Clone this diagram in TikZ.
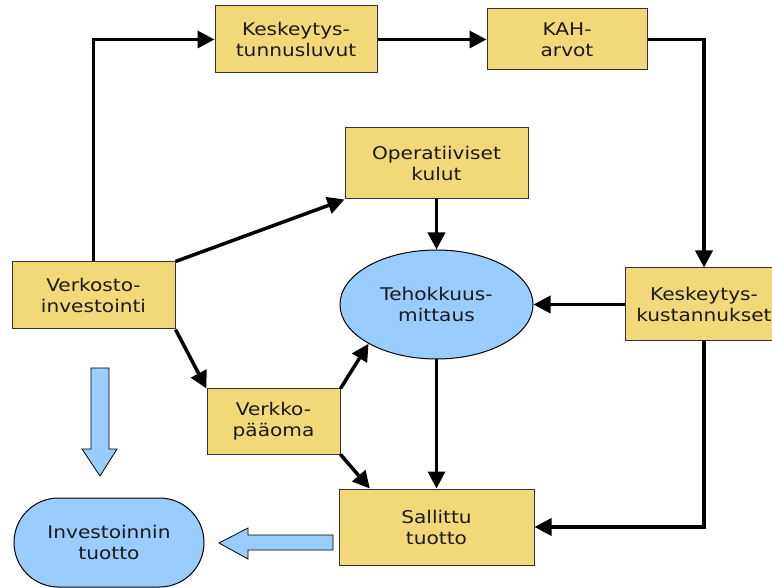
\documentclass[tikz,border=0pt]{standalone}
\usepackage{fontspec}
\setmainfont{DejaVu Sans}[FakeStretch=1.15]
\usetikzlibrary{arrows.meta,shapes.geometric}
\definecolor{boxyellow}{RGB}{241,217,122}
\definecolor{ovalblue}{RGB}{153,204,255}
\definecolor{textdark}{RGB}{26,26,26}
\begin{document}
\begin{tikzpicture}[x=1pt,y=-1pt,
        every node/.style={font=\fontsize{17.5}{21}\selectfont, text=textdark, align=center, inner sep=0pt},
        box/.style={rectangle, draw=black!80, line width=1pt, fill=boxyellow},
        oval/.style={ellipse, draw=black, line width=1pt, fill=ovalblue},
        arr/.style={line width=3.5pt, -{Triangle[length=17pt,width=17pt]}},
        bigarrow/.style={draw=black, line width=0.8pt, fill=ovalblue}
    ]
    \clip (0,0) rectangle (772,588);
    \fill[white] (0,0) rectangle (772,588);

    % nodes
    \node[box, minimum width=163, minimum height=67] (verkosto) at (93.5,295.5) {Verkosto-\\investointi};
    \node[box, minimum width=162, minimum height=67] (tunnus) at (296,39.5) {Keskeytys-\\tunnusluvut};
    \node[box, minimum width=160, minimum height=61] (kah) at (567,39.5) {KAH-\\arvot};
    \node[box, minimum width=183, minimum height=71] (operkulut) at (436.5,163.5) {Operatiiviset\\kulut};
    \node[oval, minimum width=193, minimum height=109] (tehokkuus) at (436.5,304.5) {Tehokkuus-\\mittaus};
    \node[box, minimum width=158, minimum height=73] (kustannukset) at (704,304.5) {Keskeytys-\\kustannukset};
    \node[box, minimum width=133, minimum height=65] (paaoma) at (273.5,421.5) {Verkko-\\pääoma};
    \node[box, minimum width=195, minimum height=76] (sallittu) at (436.5,527) {Sallittu\\tuotto};
    \node[draw=black, line width=1pt, fill=ovalblue, rounded corners=44.5pt,
          minimum width=190, minimum height=89] (tuotto) at (109,542.5) {Investoinnin\\tuotto};

    % connectors
    \draw[arr] (verkosto.north) |- (tunnus.west);
    \draw[arr] (tunnus) -- (kah);
    \draw[arr] (kah.east) -| (kustannukset.north);
    \draw[arr] (kustannukset) -- (tehokkuus);
    \draw[arr] (kustannukset.south) |- (sallittu.east);
    \draw[arr] (operkulut) -- (tehokkuus);
    \draw[arr] (tehokkuus) -- (sallittu);
    \draw[arr] (verkosto.north east) -- (operkulut.south west);
    \draw[arr] (verkosto.south east) -- (paaoma.north west);
    \draw[arr] (paaoma.north east) -- (tehokkuus.210);
    \draw[arr] (paaoma.south east) -- (sallittu.150);

    % hollow arrows
    \draw[bigarrow] (91,368) -- (109,368) -- (109,449) -- (117,449) -- (100,476)
        -- (82,449) -- (91,449) -- cycle;
    \draw[bigarrow] (333,535) -- (333,550) -- (248,550) -- (248,559) -- (219,543)
        -- (248,528) -- (248,535) -- cycle;
\end{tikzpicture}
\end{document}
